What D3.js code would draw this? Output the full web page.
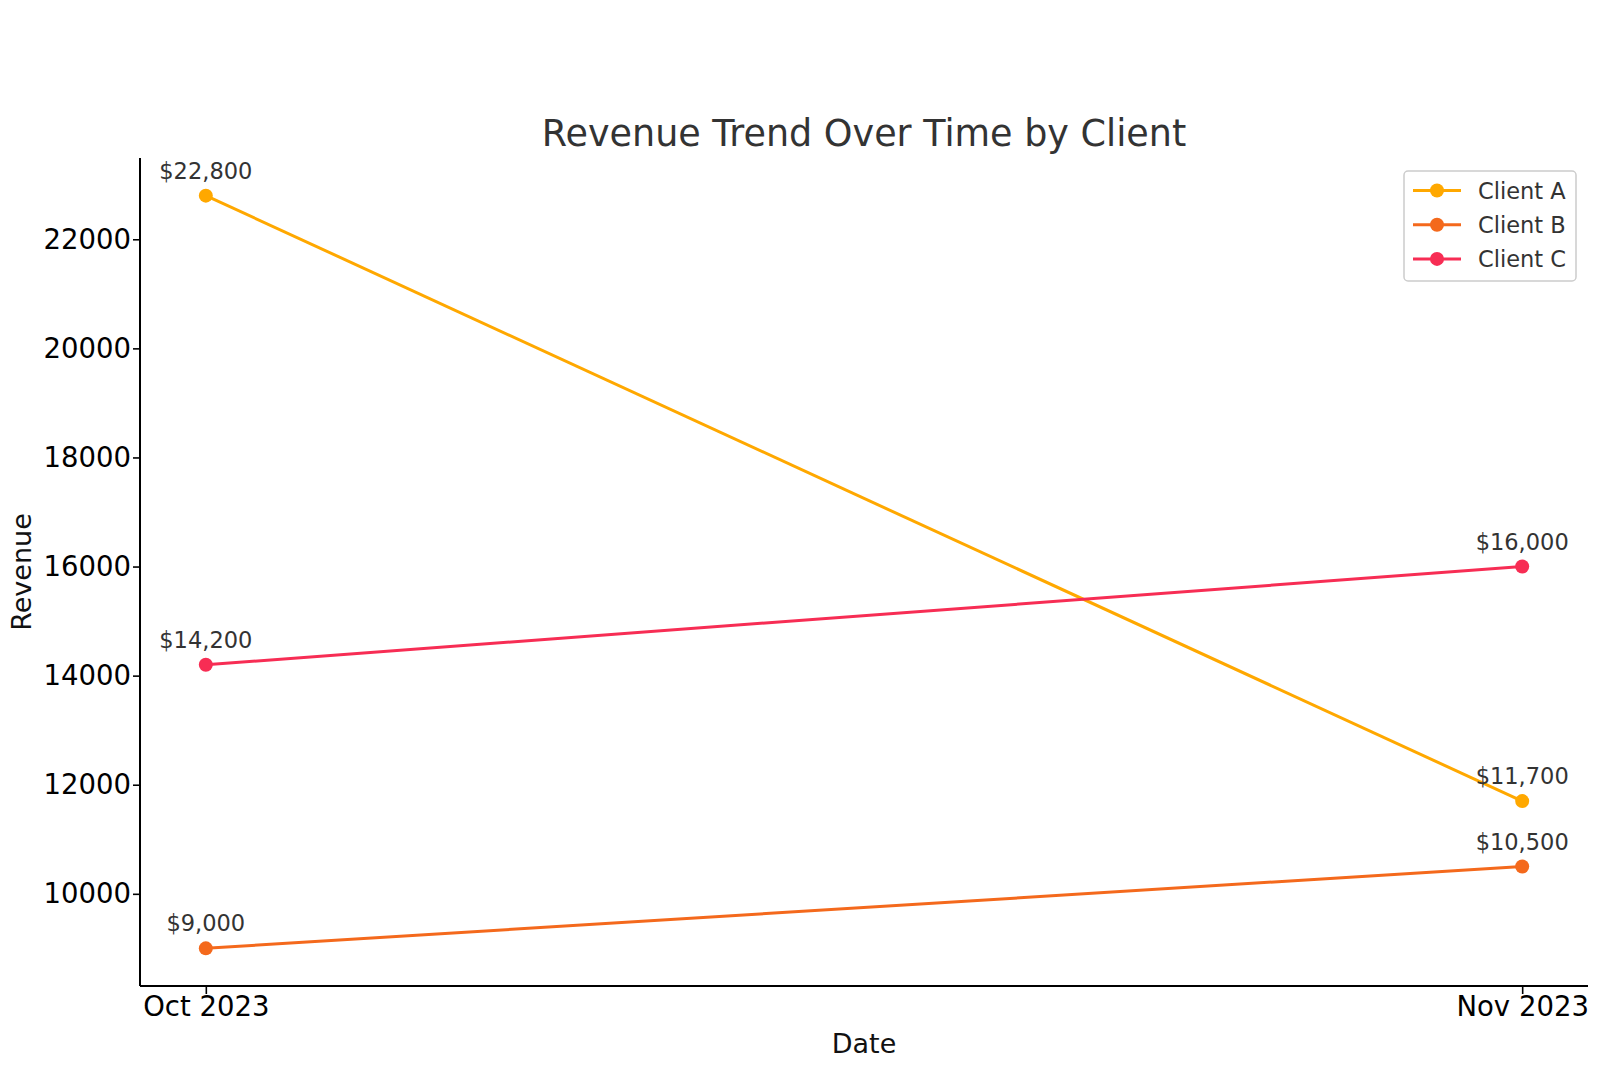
<!DOCTYPE html>
<html>
<head>
<meta charset="utf-8">
<script src="https://cdn.jsdelivr.net/npm/d3@7"></script>
<style>
  body { margin: 0; background: #fff; }
  svg text { font-family: "DejaVu Sans", sans-serif; }
</style>
</head>
<body>
<div id="chart"></div>
<script>
const dates = ['Oct 2023', 'Nov 2023']
const clients = ['Client A', 'Client B', 'Client C']
const clientA = [22800, 11700]
const clientB = [9000, 10500]
const clientC = [14200, 16000]
const yTicks = [10000, 12000, 14000, 16000, 18000, 20000, 22000]
const colors = ['#ffa800', '#f4691c', '#f72d54']

const series = [clientA, clientB, clientC]

const W = 1600, H = 1088
const mLeft = 140, mRight = 1588, mTop = 158, mBottom = 986

let svg = d3.select('#chart').append('svg').attr('width', W).attr('height', H)

// matplotlib-style 5% margins
const allVals = series.flat()
const lo = d3.min(allVals), hi = d3.max(allVals)
const pad = (hi - lo) * 0.05
let y = d3.scaleLinear().domain([lo - pad, hi + pad]).range([mBottom, mTop])
let x = d3.scaleLinear().domain([-0.05, dates.length - 1 + 0.05]).range([mLeft, mRight])

// axes
let yAxis = svg.append('g').attr('transform', `translate(${mLeft},0)`)
  .call(d3.axisLeft(y).tickValues(yTicks).tickFormat(d3.format('d')).tickSize(7).tickSizeOuter(0).tickPadding(2))
let xAxis = svg.append('g').attr('transform', `translate(0,${mBottom})`)
  .call(d3.axisBottom(x).tickValues(d3.range(dates.length)).tickFormat(i => dates[i]).tickSize(8).tickSizeOuter(0).tickPadding(2))
;[yAxis, xAxis].forEach(g => {
  g.select('.domain').attr('stroke', '#000').attr('stroke-width', 2)
  g.selectAll('.tick line').attr('stroke', '#000').attr('stroke-width', 1.6)
  g.selectAll('.tick text').attr('fill', '#000').style('font-size', '27.5px').style('font-family', 'DejaVu Sans')
})
yAxis.select('.domain').attr('d', `M0,${mBottom}V${mTop}`)
xAxis.select('.domain').attr('d', `M${mLeft},0H${mRight}`)

// titles
svg.append('text').attr('x', (mLeft + mRight) / 2).attr('y', 146).attr('text-anchor', 'middle')
  .style('font-size', '36.5px').attr('fill', '#333').text('Revenue Trend Over Time by Client')
svg.append('text').attr('x', (mLeft + mRight) / 2).attr('y', 1053).attr('text-anchor', 'middle')
  .style('font-size', '27px').attr('fill', '#111').text('Date')
svg.append('text').attr('transform', `translate(31,${(mTop + mBottom) / 2}) rotate(-90)`).attr('text-anchor', 'middle')
  .style('font-size', '27px').attr('fill', '#111').text('Revenue')

// lines and points
let line = d3.line().x((d, i) => x(i)).y(d => y(d))
series.forEach((s, k) => {
  svg.append('path').datum(s).attr('d', line).attr('fill', 'none')
    .attr('stroke', colors[k]).attr('stroke-width', 3)
  svg.selectAll('.pt' + k).data(s).enter().append('circle')
    .attr('cx', (d, i) => x(i)).attr('cy', d => y(d)).attr('r', 7).attr('fill', colors[k])
  svg.selectAll('.lb' + k).data(s).enter().append('text')
    .attr('x', (d, i) => x(i)).attr('y', d => y(d) - 17).attr('text-anchor', 'middle')
    .style('font-size', '22.5px').attr('fill', '#333')
    .text(d => '$' + d3.format(',')(d))
})

// legend
let lg = svg.append('g').attr('transform', 'translate(1404,171)')
lg.append('rect').attr('width', 172).attr('height', 110).attr('rx', 4)
  .attr('fill', '#fff').attr('stroke', '#ccc').attr('stroke-width', 1.5)
clients.forEach((c, k) => {
  let row = lg.append('g').attr('transform', `translate(0,${19.5 + k * 34.2})`)
  row.append('line').attr('x1', 9).attr('x2', 57).attr('stroke', colors[k]).attr('stroke-width', 3)
  row.append('circle').attr('cx', 33).attr('r', 7).attr('fill', colors[k])
  row.append('text').attr('x', 74).attr('y', 8).style('font-size', '22.5px').attr('fill', '#333').text(c)
})
</script>
</body>
</html>
